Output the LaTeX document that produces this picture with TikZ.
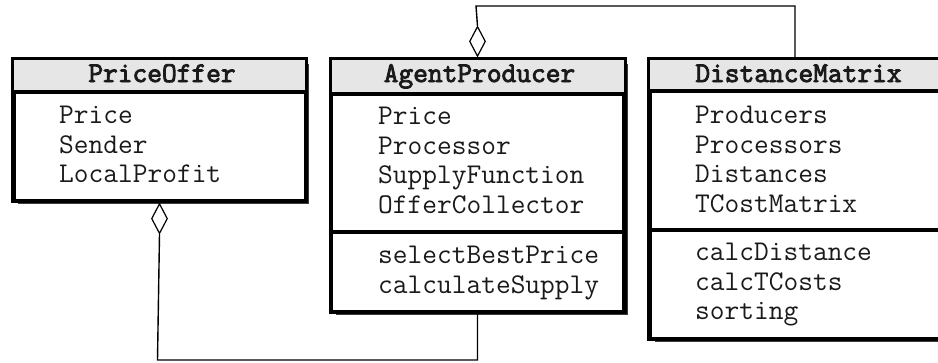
\documentclass[tikz,border=0pt]{standalone}
\usepackage{fontspec}
\newfontfamily\umltitlefont{Latin Modern Mono}[FakeBold=3]
\usetikzlibrary{shapes.geometric}
\definecolor{hdrgray}{HTML}{E6E6E6}
\definecolor{shadowgray}{HTML}{3C3C3C}
\definecolor{txt}{HTML}{1A1A1A}
\tikzset{
  umlbox/.style={draw=black, line width=3pt, fill=white, rectangle, inner sep=0pt, anchor=north west},
  shadowbox/.style={fill=shadowgray, draw=none, rectangle, inner sep=0pt, anchor=north west},
  divider/.style={line width=4pt},
  title/.style={font=\fontsize{28.6}{32}\selectfont\umltitlefont, text=txt, inner sep=0pt, anchor=base},
  item/.style={font=\fontsize{28.6}{32}\selectfont\ttfamily, text=txt, inner sep=0pt, anchor=base west},
  agg/.style={diamond, draw=black, line width=1.2pt, fill=white, minimum width=16pt, minimum height=30pt, inner sep=0pt, aspect=0.53},
  conn/.style={line width=1.4pt}
}
\begin{document}
\begin{tikzpicture}[x=1pt,y=-1pt]
\useasboundingbox (0,0) rectangle (938,362);
% ---------- PriceOffer ----------
\node[shadowbox, minimum width=291pt, minimum height=140pt] (pos) at (18,64) {};
\node[umlbox, minimum width=291pt, minimum height=140pt] (po) at (12.5,58.5) {};
\fill[hdrgray] ([shift={(1.5pt,-1.5pt)}]po.north west) rectangle ([shift={(-1.5pt,0pt)}]po.east |- 0,92);
\draw[divider] (po.west |- 0,92) -- (po.east |- 0,92);
\draw[line width=3pt] (po.north west) rectangle (po.south east);
\node[title] (poT) at (162,82) {PriceOffer};
\node[item] (po1) at (59,123) {Price};
\node[item] (po2) at (59,153) {Sender};
\node[item] (po3) at (59,182) {LocalProfit};
% ---------- AgentProducer ----------
\node[shadowbox, minimum width=292pt, minimum height=251pt] (aps) at (336,64) {};
\node[umlbox, minimum width=292pt, minimum height=251pt] (ap) at (330,58.5) {};
\fill[hdrgray] ([shift={(1.5pt,-1.5pt)}]ap.north west) rectangle ([shift={(-1.5pt,0pt)}]ap.east |- 0,94);
\draw[divider] (ap.west |- 0,94) -- (ap.east |- 0,94);
\draw[divider] (ap.west |- 0,232) -- (ap.east |- 0,232);
\draw[line width=3pt] (ap.north west) rectangle (ap.south east);
\node[title] (apT) at (479.5,82) {AgentProducer};
\node[item] (ap1) at (378,124) {Price};
\node[item] (ap2) at (378,154) {Processor};
\node[item] (ap3) at (378,183) {SupplyFunction};
\node[item] (ap4) at (378,213) {OfferCollector};
\node[item] (ap5) at (378,263) {selectBestPrice};
\node[item] (ap6) at (378,293) {calculateSupply};
% ---------- DistanceMatrix ----------
\node[shadowbox, minimum width=302pt, minimum height=278pt] (dms) at (654.5,64) {};
\node[umlbox, minimum width=302pt, minimum height=278pt] (dm) at (648.5,58.5) {};
\fill[hdrgray] ([shift={(1.5pt,-1.5pt)}]dm.north west) rectangle ([shift={(-1.5pt,0pt)}]dm.east |- 0,91);
\draw[divider] (dm.west |- 0,91) -- (dm.east |- 0,91);
\draw[divider] (dm.west |- 0,229.5) -- (dm.east |- 0,229.5);
\draw[line width=3pt] (dm.north west) rectangle (dm.south east);
\node[title] (dmT) at (798.5,82) {DistanceMatrix};
\node[item] (dm1) at (695,123) {Producers};
\node[item] (dm2) at (695,153) {Processors};
\node[item] (dm3) at (695,182) {Distances};
\node[item] (dm4) at (695,212) {TCostMatrix};
\node[item] (dm5) at (695,260) {calcDistance};
\node[item] (dm6) at (695,290) {calcTCosts};
\node[item] (dm7) at (695,319) {sorting};
% ---------- aggregations ----------
\node[agg, anchor=north] (d1) at ([yshift=-1.5pt]po.south) {};
\node[agg, anchor=south] (d2) at ([yshift=1.5pt]ap.north) {};
\coordinate (c1) at (157.5,360);
\coordinate (c2) at (476,6);
\coordinate (dmTop) at (795,58.5);
\draw[conn] (d1.south) -- (c1) -| ([yshift=1.5pt]ap.south);
\draw[conn] (d2.north) -- (c2) -| ([yshift=1.5pt]dmTop);
\end{tikzpicture}
\end{document}
